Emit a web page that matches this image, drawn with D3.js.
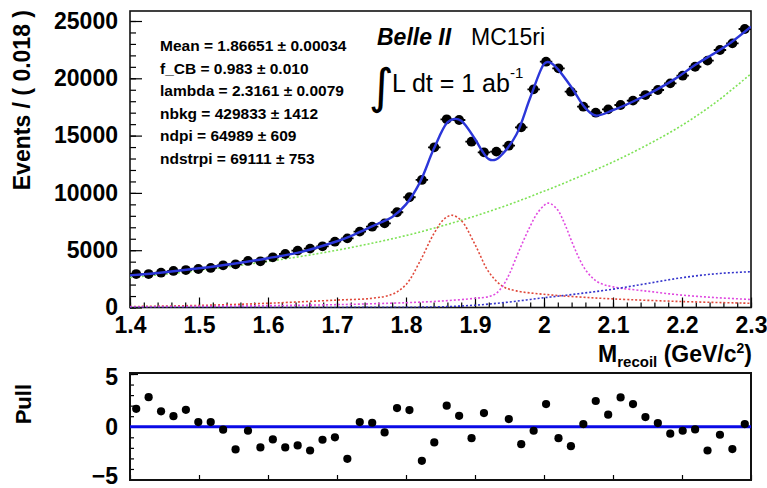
<!DOCTYPE html>
<html>
<head>
<meta charset="utf-8">
<script src="https://cdn.jsdelivr.net/npm/d3@7"></script>
<style>
  body { margin: 0; background: #fff; }
  svg text { font-family: "Liberation Sans", Arial, Helvetica, sans-serif; fill: #000; }
  .axis text { font-weight: bold; font-size: 23px; }
  .axis line { stroke: #000; stroke-width: 1.2; }
  .axis path { display: none; }
  .par { font-weight: bold; font-size: 15.5px; }
</style>
</head>
<body>
<div id="chart"></div>
<script>
// binning of the histogram
const massLo = 1.4;
const binWidth = 0.018;

// data: events per bin (50 bins)
const counts = [2920, 2920, 3040, 3190, 3270, 3360, 3450, 3680, 3770, 4060,
  4030, 4380, 4670, 4960, 5140, 5340, 5740, 6030, 6620, 7050,
  7340, 8310, 9620, 11130, 13980, 16420, 16360, 14470, 13540, 13600,
  14120, 15720, 19040, 21450, 20870, 18830, 17520, 17000, 17290, 17670,
  18050, 18540, 18980, 19560, 20230, 21010, 21540, 22470, 23050, 24300];

// pulls per bin (bin 29 not shown)
const pulls = [1.7, 2.8, 1.46, 1.0, 1.6, 0.44, 0.44, -0.28, -2.15, -0.38,
  -1.96, -1.2, -1.96, -1.77, -2.25, -1.23, -1.0, -3.04, 0.44, 0.38,
  -0.54, 1.77, 1.58, -3.23, -1.49, 2.0, 1.04, -1.08, 1.3, null,
  0.73, -1.65, -0.38, 2.15, -1.08, -1.84, 0.25, 2.44, 1.14, 2.78,
  2.15, 0.92, 0.35, -0.66, -0.38, -0.25, -2.25, -0.76, -2.12, 0.25];

// total fit curve
const fitMass = [1.40, 1.45, 1.50, 1.55, 1.60, 1.65, 1.70, 1.72, 1.74, 1.76, 1.78, 1.80, 1.82, 1.84,
  1.86, 1.87, 1.88, 1.90, 1.91, 1.92, 1.93, 1.94, 1.96, 1.98, 2.00, 2.005, 2.01, 2.02, 2.04,
  2.06, 2.075, 2.10, 2.13, 2.16, 2.19, 2.22, 2.25, 2.27, 2.30];
const fitYield = [2800, 3080, 3420, 3820, 4300, 4880, 5780, 6230, 6780, 7330, 7900, 9000, 10900, 13800,
  16150, 16450, 16300, 14700, 13700, 12950, 12900, 13400, 15100, 18300, 21250, 21420, 21350, 20800, 19200,
  17400, 16750, 17220, 18000, 18900, 19950, 21200, 22300, 23080, 24500];

// combinatorial background (green)
const bkgMass = [1.40, 1.45, 1.50, 1.55, 1.60, 1.65, 1.70, 1.75, 1.80, 1.85,
  1.90, 1.95, 2.00, 2.05, 2.10, 2.15, 2.20, 2.25, 2.30];
const bkgYield = [2620, 2900, 3220, 3600, 4020, 4480, 5000, 5600, 6280, 7080,
  7980, 9000, 10150, 11380, 12700, 14200, 15900, 17950, 20400];

// D pi signal (red)
const dpiMass = [1.40, 1.50, 1.60, 1.70, 1.75, 1.78, 1.80, 1.82, 1.84, 1.855, 1.8665,
  1.88, 1.90, 1.92, 1.94, 1.96, 2.00, 2.05, 2.10, 2.20, 2.30];
const dpiYield = [80, 180, 370, 650, 800, 1150, 2000, 4000, 6400, 7700, 8050,
  7600, 5500, 3100, 1850, 1450, 1150, 920, 750, 520, 370];

// D* pi signal (magenta)
const dstMass = [1.40, 1.50, 1.60, 1.70, 1.80, 1.85, 1.90, 1.92, 1.93, 1.94, 1.95, 1.96, 1.97, 1.98,
  1.99, 2.00, 2.005, 2.01, 2.02, 2.03, 2.04, 2.05, 2.06, 2.07, 2.08, 2.10, 2.15, 2.20, 2.25, 2.30];
const dstYield = [60, 100, 160, 250, 420, 560, 800, 950, 1200, 1850, 2950, 4400, 5800, 7100,
  8200, 8900, 9100, 9050, 8500, 7300, 5800, 4400, 3300, 2600, 2150, 1800, 1420, 1080, 860, 700];

// other background (blue dotted)
const othMass = [1.40, 1.60, 1.80, 1.85, 1.90, 1.95, 2.00, 2.05, 2.10, 2.15, 2.20, 2.25, 2.30];
const othYield = [0, 5, 20, 60, 200, 480, 850, 1200, 1600, 2100, 2600, 2950, 3120];

// axis ticks
const xMajor = [1.4, 1.5, 1.6, 1.7, 1.8, 1.9, 2.0, 2.1, 2.2, 2.3];
const yMajor = [0, 5000, 10000, 15000, 20000, 25000];
const pullMajor = [-5, 0, 5];

// fit results box
const parNames = ["Mean", "f_CB", "lambda", "nbkg", "ndpi", "ndstrpi"];
const parValues = ["1.86651", "0.983", "2.3161", "429833", "64989", "69111"];
const parErrors = ["0.00034", "0.010", "0.0079", "1412", "609", "753"];

// Global layout
const W = 767, H = 488;
const frame = { left: 130, right: 751, top: 11, bottom: 307.5 };
const pullFrame = { top: 373, bottom: 480 };

const x = d3.scaleLinear().domain([1.4, 2.3]).range([frame.left, frame.right]);
const y = d3.scaleLinear().domain([0, 25000]).range([frame.bottom, 21]);
const yPull = d3.scaleLinear().domain([-5, 5]).range([479.5, 374]);

const svg = d3.select("#chart")
  .append("svg")
    .attr("width", W)
    .attr("height", H);

svg.append("rect").attr("width", W).attr("height", H).attr("fill", "#fff");

// clip for the main pad
svg.append("clipPath").attr("id", "clipMain")
  .append("rect")
    .attr("x", frame.left).attr("y", frame.top)
    .attr("width", frame.right - frame.left).attr("height", frame.bottom - frame.top);

// ---- axes of the main pad
svg.append("g")
  .attr("class", "axis")
  .attr("transform", "translate(0," + frame.bottom + ")")
  .call(d3.axisBottom(x).tickValues(d3.range(1.4, 2.3001, 0.02)).tickSize(-5).tickSizeOuter(0).tickFormat(""));

svg.append("g")
  .attr("class", "axis")
  .attr("transform", "translate(0," + frame.bottom + ")")
  .call(d3.axisBottom(x).tickValues(xMajor).tickSize(-10).tickSizeOuter(0).tickPadding(9).tickFormat(d3.format("")));

svg.append("g")
  .attr("class", "axis")
  .attr("transform", "translate(" + frame.left + ",0)")
  .call(d3.axisLeft(y).tickValues(d3.range(0, 25001, 1000)).tickSize(-6).tickSizeOuter(0).tickFormat(""));

svg.append("g")
  .attr("class", "axis")
  .attr("transform", "translate(" + frame.left + ",0)")
  .call(d3.axisLeft(y).tickValues(yMajor).tickSize(-12).tickSizeOuter(0).tickPadding(12).tickFormat(d3.format("d")));

// frame
svg.append("rect")
  .attr("x", frame.left).attr("y", frame.top)
  .attr("width", frame.right - frame.left).attr("height", frame.bottom - frame.top)
  .attr("fill", "none").attr("stroke", "#111").attr("stroke-width", 1.6);

// ---- curves
const plot = svg.append("g").attr("clip-path", "url(#clipMain)");

const curve = d3.line()
  .x(d => x(d[0]))
  .y(d => y(d[1]))
  .curve(d3.curveCatmullRom.alpha(0.5));

const components = [
  { mass: bkgMass, yld: bkgYield, color: "#7ee256" },
  { mass: dpiMass, yld: dpiYield, color: "#e0483a" },
  { mass: dstMass, yld: dstYield, color: "#e04ae0" },
  { mass: othMass, yld: othYield, color: "#3434cc" },
];

components.forEach(c => {
  plot.append("path")
    .datum(d3.zip(c.mass, c.yld))
    .attr("d", curve)
    .attr("fill", "none")
    .attr("stroke", c.color)
    .attr("stroke-width", 1.6)
    .attr("stroke-dasharray", "2,2");
});

// data points with bin-width bars
const bins = counts.map((c, i) => ({ lo: massLo + i * binWidth, n: c }));

plot.selectAll(".xbar")
  .data(bins)
  .enter().append("line")
    .attr("x1", d => x(d.lo))
    .attr("x2", d => x(d.lo + binWidth))
    .attr("y1", d => y(d.n))
    .attr("y2", d => y(d.n))
    .attr("stroke", "#000")
    .attr("stroke-width", 1.8);

plot.selectAll(".dot")
  .data(bins)
  .enter().append("circle")
    .attr("cx", d => x(d.lo + binWidth / 2))
    .attr("cy", d => y(d.n))
    .attr("r", 4.9)
    .attr("fill", "#000");

// total fit
plot.append("path")
  .datum(d3.zip(fitMass, fitYield))
  .attr("d", curve)
  .attr("fill", "none")
  .attr("stroke", "#2b36d9")
  .attr("stroke-width", 2.4);

// ---- texts in main pad
svg.append("text")
  .attr("transform", "translate(30,10) rotate(-90)")
  .attr("text-anchor", "end")
  .style("font-weight", "bold")
  .style("font-size", "23px")
  .text("Events / ( 0.018 )");

const parBox = svg.append("g");
parNames.forEach((p, i) => {
  parBox.append("text")
    .attr("class", "par")
    .attr("x", 160)
    .attr("y", 51 + i * 22.5)
    .text(p + " =  " + parValues[i] + " \u00b1 " + parErrors[i]);
});

svg.append("text")
  .attr("x", 377).attr("y", 45)
  .style("font-weight", "bold").style("font-style", "italic").style("font-size", "23px")
  .text("Belle II");

svg.append("text")
  .attr("x", 471).attr("y", 45)
  .style("font-size", "23px")
  .text("MC15ri");

svg.append("text")
  .attr("x", 369).attr("y", 103)
  .style("font-family", "DejaVu Sans")
  .style("font-size", "48px")
  .text("\u222b");

const lumi = svg.append("text")
  .attr("x", 392).attr("y", 92)
  .style("font-size", "25px");
lumi.append("tspan").text("L dt = 1 ab");
lumi.append("tspan").attr("dy", -14).style("font-size", "15px").text("-1");

const xTitle = svg.append("text")
  .attr("x", 752).attr("y", 362)
  .attr("text-anchor", "end")
  .style("font-weight", "bold")
  .style("font-size", "23px");
xTitle.append("tspan").text("M");
xTitle.append("tspan").attr("dy", 5).style("font-size", "15px").text("recoil");
xTitle.append("tspan").attr("dy", -5).text(" (GeV/c");
xTitle.append("tspan").attr("dy", -9).style("font-size", "14px").text("2");
xTitle.append("tspan").attr("dy", 9).text(")");

// ---- pull pad
svg.append("g")
  .attr("class", "axis")
  .attr("transform", "translate(0," + pullFrame.bottom + ")")
  .call(d3.axisBottom(x).tickValues(xMajor).tickSize(-5).tickSizeOuter(0).tickFormat(""));

svg.append("g")
  .attr("class", "axis")
  .attr("transform", "translate(" + frame.left + ",0)")
  .call(d3.axisLeft(yPull).tickValues(d3.range(-5, 5.01, 1)).tickSize(-4).tickSizeOuter(0).tickFormat(""));

const pullAxis = svg.append("g")
  .attr("class", "axis")
  .attr("transform", "translate(" + frame.left + ",0)")
  .call(d3.axisLeft(yPull).tickValues(pullMajor).tickSize(-8).tickSizeOuter(0).tickPadding(12).tickFormat(d3.format("d")));

// labels of the outer pull ticks sit slightly inside, as in ROOT
pullAxis.selectAll(".tick text")
  .attr("y", d => d === 5 ? 3 : (d === -5 ? -3 : 0));

svg.append("rect")
  .attr("x", frame.left).attr("y", pullFrame.top)
  .attr("width", frame.right - frame.left).attr("height", pullFrame.bottom - pullFrame.top)
  .attr("fill", "none").attr("stroke", "#111").attr("stroke-width", 2);

svg.append("line")
  .attr("x1", x(1.4)).attr("x2", x(2.3))
  .attr("y1", yPull(0)).attr("y2", yPull(0))
  .attr("stroke", "#0a0ae6")
  .attr("stroke-width", 3);

svg.selectAll(".pull")
  .data(pulls.map((p, i) => ({ m: massLo + (i + 0.5) * binWidth, p: p })).filter(d => d.p !== null))
  .enter().append("circle")
    .attr("cx", d => x(d.m))
    .attr("cy", d => yPull(d.p))
    .attr("r", 4.1)
    .attr("fill", "#000");

svg.append("text")
  .attr("transform", "translate(31,384) rotate(-90)")
  .attr("text-anchor", "end")
  .style("font-weight", "bold")
  .style("font-size", "22px")
  .text("Pull");
</script>
</body>
</html>
